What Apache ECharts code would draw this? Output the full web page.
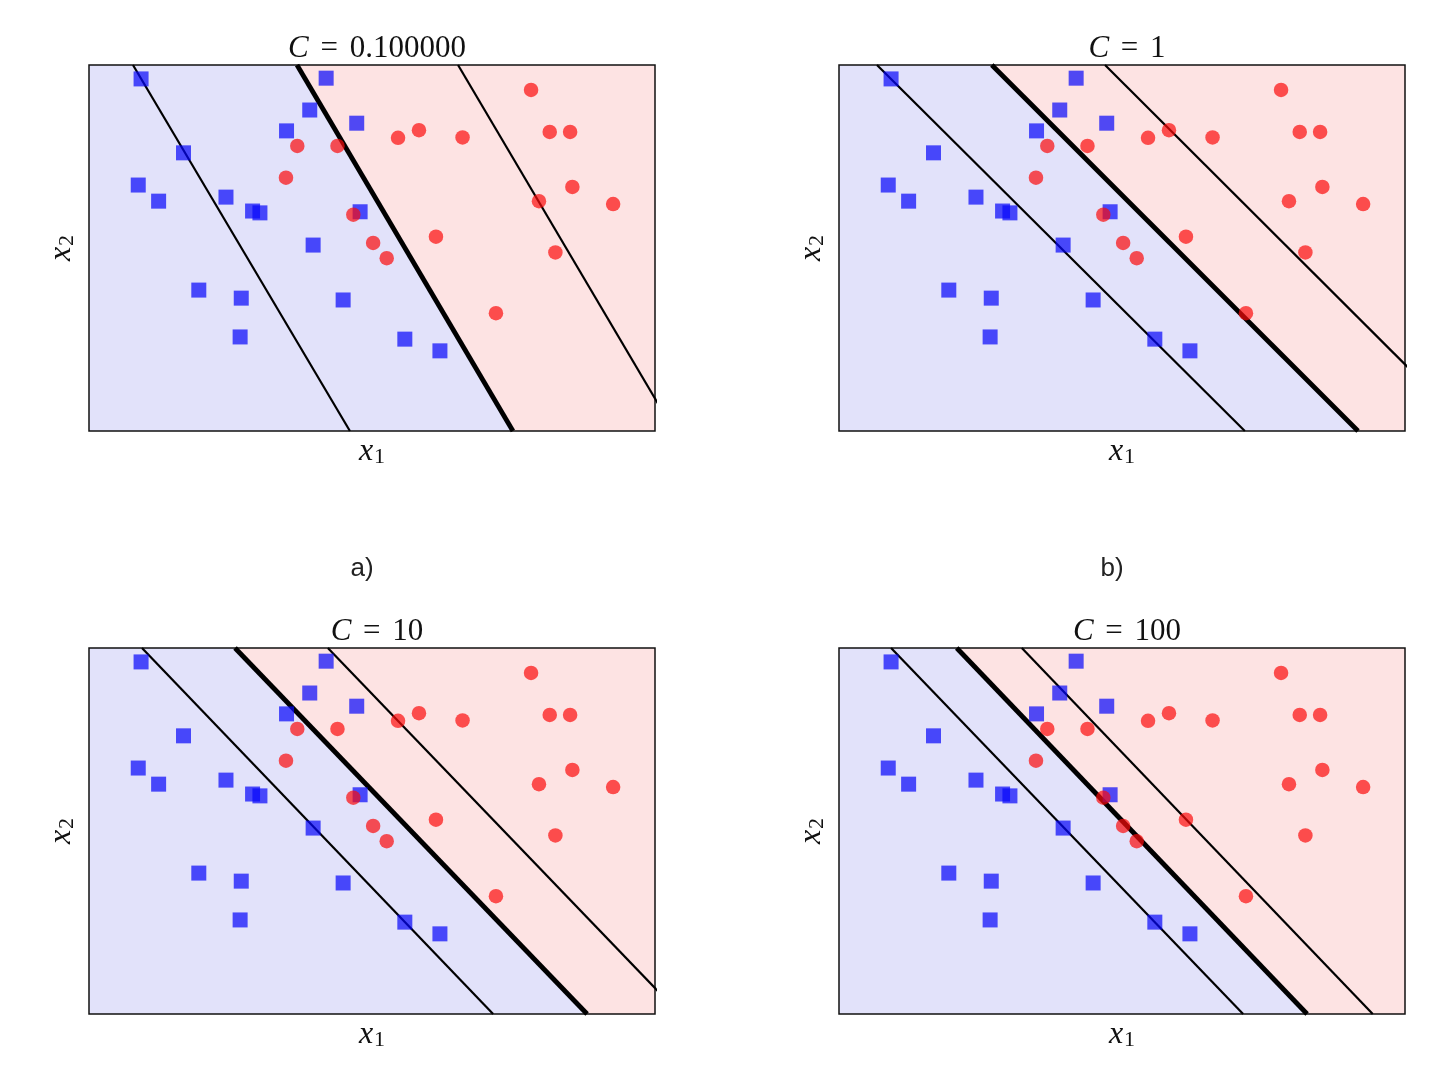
<!DOCTYPE html>
<html><head><meta charset="utf-8">
<script src="https://cdn.jsdelivr.net/npm/echarts@6/dist/echarts.min.js"></script>
<style>html,body{margin:0;padding:0;background:#fff}#c{width:1454px;height:1073px}</style>
</head><body><div id="c"></div>
<script>
// ---- data (same points in all four panels) ----
const blueX1 = [0.92, 4.19, 3.90, 3.49, 4.73, 1.67, 0.87, 1.23, 2.42, 2.89, 3.02, 4.79, 3.96, 4.49, 5.58, 6.20, 1.94, 2.69, 2.67];
const blueX2 = [9.62, 9.64, 8.77, 8.20, 8.41, 7.60, 6.72, 6.28, 6.39, 6.01, 5.96, 5.99, 5.08, 3.58, 2.51, 2.19, 3.85, 3.63, 2.57];
const redX1 = [3.68, 4.39, 5.46, 5.83, 6.60, 3.48, 4.67, 5.02, 5.26, 6.13, 7.19, 7.95, 8.54, 9.26, 8.24, 7.81, 8.14, 8.50];
const redX2 = [7.79, 7.79, 8.01, 8.22, 8.02, 6.92, 5.91, 5.14, 4.72, 5.31, 3.22, 6.28, 6.67, 6.20, 4.88, 9.32, 8.17, 8.17];

// ---- panels ----
const cValues = ['0.100000', '1', '10', '100'];
const panelLetters = ['a)', 'b)', '', ''];
// x1 where each line crosses x2 = 10 (top) and x2 = 0 (bottom)
const boundaryTop     = [3.675, 2.70, 2.58, 2.08];
const boundaryBottom  = [7.49, 9.17, 8.80, 8.27];
const marginLowTop    = [0.777, 0.671, 0.936, 0.92];
const marginLowBottom = [4.61, 7.17, 7.14, 7.14];
const marginHighTop   = [6.52, 4.70, 4.22, 3.23];
const marginHighBottom= [10.34, 11.18, 10.44, 9.43];
const X1_MIN = 0, X1_MAX = 10, X2_MIN = 0, X2_MAX = 10;

const BLUE_BG = '#e2e2fa', RED_BG = '#fde3e3';
const gridPos = [[89, 65], [839, 65], [89, 648], [839, 648]];
const GW = 566, GH = 366;

const serif = 'Liberation Serif';
const nameRich = {
  i: { fontFamily: serif, fontStyle: 'italic', fontSize: 32, color: '#111', lineHeight: 30, verticalAlign: 'bottom' },
  s: { fontFamily: serif, fontSize: 22, color: '#111', lineHeight: 14, verticalAlign: 'bottom', padding: [0, 0, 0, 1] }
};

const grids = [], xAxes = [], yAxes = [], series = [], titles = [];
for (let k = 0; k < 4; k++) {
  const [L, T] = gridPos[k];
  grids.push({ left: L, top: T, width: GW, height: GH, show: true, borderColor: '#111', borderWidth: 1.5, backgroundColor: 'transparent' });
  xAxes.push({
    gridIndex: k, type: 'value', min: X1_MIN, max: X1_MAX,
    axisLine: { show: false }, axisTick: { show: false }, axisLabel: { show: false }, splitLine: { show: false },
    name: '{i|x}{s|1}', nameLocation: 'middle', nameGap: 7, nameTextStyle: { rich: nameRich }
  });
  yAxes.push({
    gridIndex: k, type: 'value', min: X2_MIN, max: X2_MAX,
    axisLine: { show: false }, axisTick: { show: false }, axisLabel: { show: false }, splitLine: { show: false },
    name: '{i|x}{s|2}', nameLocation: 'middle', nameGap: 11, nameTextStyle: { rich: nameRich }
  });
  const bt = boundaryTop[k], bb = boundaryBottom[k];
  series.push({
    type: 'custom', xAxisIndex: k, yAxisIndex: k, z: -1, silent: true,
    data: [[X1_MIN, X2_MIN], [X1_MAX, X2_MAX]],
    renderItem: function (params, api) {
      const pts = params.dataIndex === 0
        ? [[X1_MIN, X2_MIN], [X1_MIN, X2_MAX], [bt, X2_MAX], [bb, X2_MIN]]
        : [[bt, X2_MAX], [X1_MAX, X2_MAX], [X1_MAX, X2_MIN], [bb, X2_MIN]];
      return { type: 'polygon', shape: { points: pts.map(p => api.coord(p)) },
               style: { fill: params.dataIndex === 0 ? BLUE_BG : RED_BG, stroke: null } };
    }
  });
  const lines = [
    [marginLowTop[k], marginLowBottom[k], 2.2],
    [boundaryTop[k], boundaryBottom[k], 4.8],
    [marginHighTop[k], marginHighBottom[k], 2.2]
  ];
  lines.forEach(([a, b, w]) => series.push({
    type: 'line', xAxisIndex: k, yAxisIndex: k, clip: true, silent: true,
    showSymbol: false, symbol: 'none', data: [[a, X2_MAX], [b, X2_MIN]],
    lineStyle: { color: '#000', width: w }, z: 2
  }));
  series.push({
    type: 'scatter', xAxisIndex: k, yAxisIndex: k, symbol: 'rect', symbolSize: 15, z: 3,
    data: blueX1.map((v, i) => [v, blueX2[i]]), itemStyle: { color: 'rgba(5,5,250,0.88)' }
  });
  series.push({
    type: 'scatter', xAxisIndex: k, yAxisIndex: k, symbol: 'circle', symbolSize: 14.5, z: 3,
    data: redX1.map((v, i) => [v, redX2[i]]), itemStyle: { color: 'rgba(250,10,10,0.87)' }
  });
  titles.push({
    text: '{i|C} {eq|=} ' + cValues[k], left: L + GW / 2, top: T - 37, textAlign: 'center',
    textStyle: { fontFamily: serif, fontSize: 31, fontWeight: 'normal', color: '#111',
      rich: {
        i: { fontFamily: serif, fontStyle: 'italic', fontSize: 31, color: '#111' },
        eq: { fontFamily: serif, fontSize: 31, color: '#111', padding: [0, 4, 0, 4] }
      } }
  });
  if (panelLetters[k]) titles.push({
    text: panelLetters[k], left: L + GW / 2 - 15, top: T + GH + 120, textAlign: 'center',
    textStyle: { fontFamily: 'Liberation Sans', fontSize: 26, fontWeight: 'normal', color: '#222' }
  });
}

const chart = echarts.init(document.getElementById('c'), null, { renderer: 'canvas' });
chart.setOption({
  animation: false, backgroundColor: '#fff',
  title: titles, grid: grids, xAxis: xAxes, yAxis: yAxes, series: series
});
</script></body></html>
